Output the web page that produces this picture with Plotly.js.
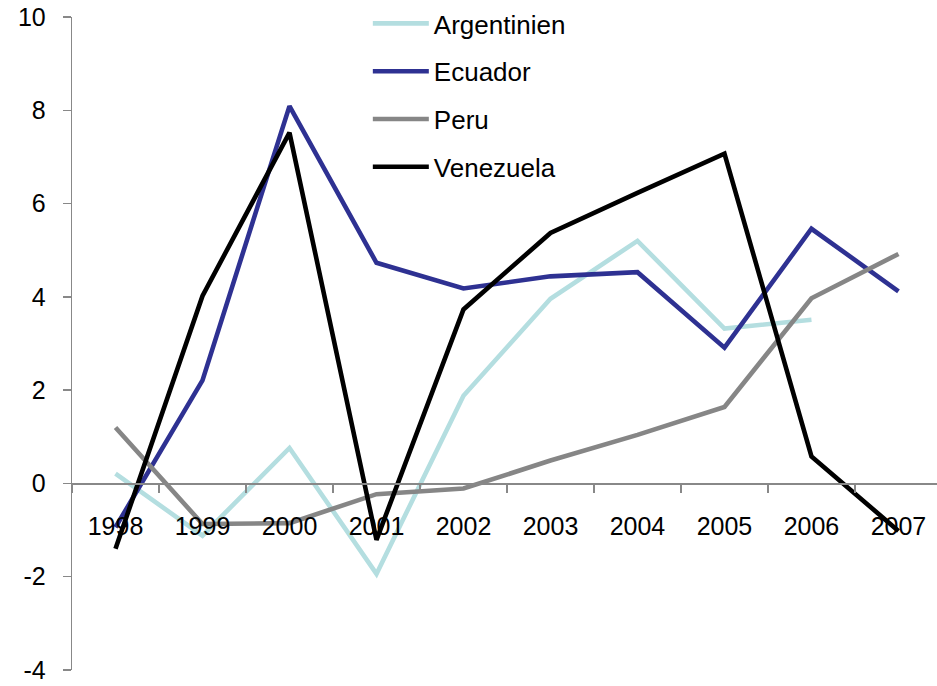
<!DOCTYPE html>
<html>
<head>
<meta charset="utf-8">
<script src="https://cdn.plot.ly/plotly-3.0.1.min.js"></script>
<style>html,body{margin:0;padding:0;background:#fff;}</style>
</head>
<body>
<div id="chart" style="width:937px;height:686px;"></div>
<script>
const years = ["1998","1999","2000","2001","2002","2003","2004","2005","2006","2007"];
const argentinien = [0.21, -1.12, 0.76, -1.94, 1.88, 3.96, 5.20, 3.32, 3.51, null];
const ecuador = [-0.94, 2.21, 8.09, 4.73, 4.18, 4.44, 4.53, 2.91, 5.46, 4.12];
const peru = [1.20, -0.87, -0.85, -0.23, -0.11, 0.49, 1.04, 1.64, 3.97, 4.92];
const venezuela = [-1.40, 4.02, 7.52, -1.21, 3.73, 5.37, 6.23, 7.07, 0.58, -1.02];
const names = ["Argentinien", "Ecuador", "Peru", "Venezuela"];
const colors = ["#B4DEE0", "#2E3192", "#868686", "#000000"];
const series = [argentinien, ecuador, peru, venezuela];
const yTickVals = [-4, -2, 0, 2, 4, 6, 8, 10];
const yTickText = ["-4", "-2", "0", "2", "4", "6", "8", "10"];

const font = '"Liberation Sans", Arial, sans-serif';
const traces = series.map((s, i) => ({
  type: 'scatter', mode: 'lines', x: years, y: s, name: names[i],
  legendgroup: 'g' + i,
  line: {color: colors[i], width: 4.6},
  connectgaps: false
}));

const layout = {
  width: 937, height: 686,
  margin: {l: 72, r: 0, t: 17, b: 16},
  paper_bgcolor: '#fff', plot_bgcolor: '#fff',
  font: {family: font, size: 25, color: '#000'},
  showlegend: true,
  legend: {x: 0.342, y: 1.026, xanchor: 'left', yanchor: 'top',
           font: {family: font, size: 26, color: '#000'},
           itemwidth: 56,
           tracegroupgap: 11, bgcolor: 'rgba(0,0,0,0)'},
  xaxis: {type: 'category', range: [-0.5, 9.443], anchor: 'free', position: 4/14,
          tickson: 'boundaries', ticks: 'outside', ticklen: 8, tickcolor: '#888', tickwidth: 1.3,
          showline: true, linecolor: '#888', linewidth: 1.3, showgrid: false, zeroline: false,
          ticklabelstandoff: 20,
          tickfont: {family: font, size: 25, color: '#000'}, fixedrange: true},
  yaxis: {range: [-4, 10], tickmode: 'array', tickvals: yTickVals, ticktext: yTickText,
          ticks: 'outside', ticklen: 8, tickcolor: '#888', tickwidth: 1.3,
          showline: true, linecolor: '#888', linewidth: 1.3, showgrid: false, zeroline: false,
          ticklabeloverflow: 'allow',
          tickfont: {family: font, size: 25, color: '#000'}, ticklabelstandoff: 12, fixedrange: true}
};

Plotly.newPlot('chart', traces, layout, {displayModeBar: false, staticPlot: true});
</script>
</body>
</html>
